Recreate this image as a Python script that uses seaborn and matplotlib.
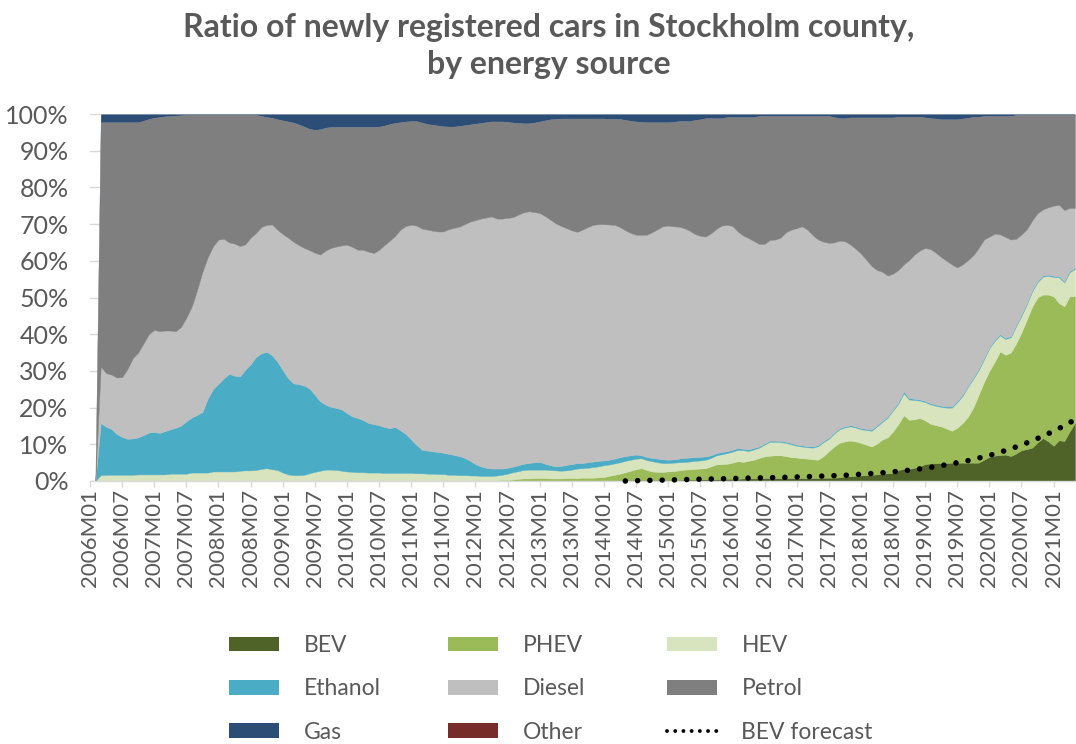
import numpy as np
import pandas as pd
import matplotlib
matplotlib.use("Agg")
import matplotlib.pyplot as plt
import seaborn as sns
from matplotlib.patches import Patch
from matplotlib.lines import Line2D

sns.set_theme(style="white")
plt.rcParams['font.family'] = ['Lato', 'DejaVu Sans']

# ---------------- data (share of newly registered cars, %) ----------------
months = [f"{y}M{m:02d}" for y in range(2006, 2022) for m in range(1, 13)][:185]

bev = [
    0, 0, 0, 0, 0, 0, 0, 0, 0, 0, 0, 0,
    0, 0, 0, 0, 0, 0, 0, 0, 0, 0, 0, 0,
    0, 0, 0, 0, 0, 0, 0, 0, 0, 0, 0, 0,
    0, 0, 0, 0, 0, 0, 0, 0, 0, 0, 0, 0,
    0, 0, 0, 0, 0, 0, 0, 0, 0, 0, 0, 0,
    0, 0, 0, 0, 0, 0, 0, 0, 0, 0, 0, 0,
    0, 0, 0, 0, 0, 0, 0, 0, 0, 0, 0, 0,
    0, 0, 0, 0, 0, 0, 0, 0, 0, 0, 0, 0,
    0.1, 0.1, 0.2, 0.2, 0.3, 0.3, 0.3, 0.3, 0.3, 0.3, 0.3, 0.3,
    0.3, 0.3, 0.3, 0.4, 0.4, 0.4, 0.4, 0.5, 0.5, 0.5, 0.5, 0.6,
    0.6, 0.6, 0.7, 0.7, 0.7, 0.7, 0.8, 0.8, 0.8, 0.8, 0.8, 0.8,
    0.8, 0.8, 0.8, 0.8, 0.8, 0.9, 0.9, 0.9, 1.0, 1.2, 1.3, 1.4,
    1.5, 1.6, 1.7, 1.8, 2.0, 2.1, 2.2, 3.0, 3.3, 3.3, 3.6, 4.0,
    4.6, 4.8, 4.9, 4.9, 4.9, 5.0, 5.0, 5.0, 5.0, 5.0, 5.0, 5.8,
    6.6, 6.9, 7.1, 7.2, 6.8, 7.5, 8.4, 8.7, 9.1, 10.5, 11.7, 10.8,
    9.6, 11.1, 10.9, 13.5, 15.8,
]
phev = [
    0, 0, 0, 0, 0, 0, 0, 0, 0, 0, 0, 0,
    0, 0, 0, 0, 0, 0, 0, 0, 0, 0, 0, 0,
    0, 0, 0, 0, 0, 0, 0, 0, 0, 0, 0, 0,
    0, 0, 0, 0, 0, 0, 0, 0, 0, 0, 0, 0,
    0, 0, 0, 0, 0, 0, 0, 0, 0, 0, 0, 0,
    0, 0, 0, 0, 0, 0, 0, 0, 0, 0, 0, 0,
    0, 0, 0, 0, 0.2, 0.3, 0.3, 0.4, 0.6, 0.7, 0.7, 0.8,
    0.8, 0.8, 0.7, 0.7, 0.7, 0.8, 0.8, 0.8, 0.9, 0.9, 0.9, 1.0,
    1.0, 1.3, 1.5, 1.8, 2.1, 2.5, 2.9, 3.2, 2.7, 2.3, 2.2, 2.2,
    2.3, 2.4, 2.6, 2.7, 2.8, 2.9, 3.0, 3.0, 3.5, 4.0, 4.1, 4.1,
    4.4, 4.8, 4.5, 4.8, 5.1, 5.6, 5.9, 6.1, 6.2, 6.2, 6.0, 5.7,
    5.6, 5.4, 5.3, 5.1, 5.0, 5.9, 7.2, 8.5, 9.4, 9.6, 9.7, 9.4,
    8.9, 8.3, 7.7, 8.4, 9.3, 9.8, 11.3, 12.5, 14.6, 13.4, 13.2, 13.2,
    11.9, 10.8, 10.3, 10.0, 9.4, 8.7, 9.5, 10.8, 12.5, 15.0, 18.5, 21.2,
    23.4, 25.6, 28.2, 27.2, 28.2, 30.0, 32.1, 35.3, 38.4, 39.5, 39.1, 40.0,
    40.7, 37.4, 36.7, 36.8, 34.6,
]
hev = [
    0, 0, 1.6, 1.7, 1.7, 1.7, 1.7, 1.7, 1.7, 1.8, 1.8, 1.8,
    1.8, 1.8, 1.8, 2.0, 2.0, 2.0, 2.0, 2.3, 2.3, 2.3, 2.3, 2.6,
    2.6, 2.6, 2.6, 2.6, 2.8, 2.9, 2.9, 3.0, 3.3, 3.5, 3.2, 3.0,
    2.3, 1.8, 1.6, 1.6, 1.7, 2.1, 2.5, 2.8, 3.1, 3.1, 3.0, 2.8,
    2.6, 2.5, 2.4, 2.4, 2.3, 2.3, 2.3, 2.2, 2.2, 2.2, 2.2, 2.2,
    2.2, 2.1, 2.1, 2.0, 2.0, 1.9, 1.9, 1.7, 1.7, 1.6, 1.6, 1.5,
    1.5, 1.4, 1.4, 1.4, 1.3, 1.4, 1.7, 2.0, 2.1, 2.3, 2.4, 2.3,
    2.3, 2.3, 2.3, 2.2, 2.1, 2.1, 2.3, 2.6, 2.6, 2.7, 2.9, 3.0,
    3.2, 3.1, 3.1, 3.1, 3.1, 3.0, 2.9, 2.7, 2.7, 2.8, 2.6, 2.4,
    2.3, 2.3, 2.2, 2.1, 2.1, 2.2, 2.2, 2.3, 2.3, 2.5, 2.7, 2.9,
    3.0, 3.1, 3.2, 2.7, 2.8, 2.8, 3.2, 3.8, 3.7, 3.6, 3.6, 3.5,
    3.2, 3.2, 3.1, 3.2, 3.7, 3.8, 3.4, 3.5, 3.7, 3.8, 3.9, 3.8,
    3.7, 4.0, 4.3, 4.7, 4.8, 5.4, 5.7, 5.6, 6.0, 5.5, 5.3, 4.7,
    5.0, 5.3, 5.3, 5.3, 5.7, 6.3, 7.0, 7.4, 8.2, 7.9, 6.7, 6.2,
    6.2, 5.7, 4.4, 4.3, 4.2, 4.7, 4.5, 4.2, 4.2, 4.2, 4.9, 5.1,
    5.3, 7.0, 6.5, 6.6, 7.4,
]
ethanol = [
    0, 0, 14.2, 13.1, 12.5, 11.1, 10.3, 9.8, 9.9, 10.1, 10.7, 11.4,
    11.6, 11.3, 11.8, 12.1, 12.5, 13.1, 14.3, 15.0, 15.7, 16.5, 20.2, 22.5,
    23.9, 25.4, 26.6, 26.1, 25.7, 27.4, 28.9, 30.8, 31.5, 31.7, 31.1, 29.5,
    27.9, 26.2, 25.0, 24.8, 24.3, 23.1, 21.0, 18.9, 17.7, 17.1, 16.9, 16.7,
    15.9, 15.1, 14.8, 14.2, 13.5, 13.2, 12.9, 12.5, 12.2, 12.5, 11.6, 10.6,
    9.1, 7.7, 6.4, 6.3, 6.1, 6.0, 5.8, 5.7, 5.4, 5.2, 4.7, 4.0,
    3.1, 2.6, 2.2, 2.0, 1.9, 1.7, 1.6, 1.5, 1.6, 1.7, 1.8, 2.0,
    2.1, 1.6, 1.3, 1.1, 1.3, 1.5, 1.5, 1.5, 1.4, 1.5, 1.5, 1.5,
    1.3, 1.3, 1.3, 1.4, 1.3, 1.2, 1.1, 0.8, 0.8, 0.9, 1.0, 1.0,
    0.9, 0.9, 1.0, 1.1, 1.1, 1.0, 1.0, 0.9, 0.7, 0.6, 0.6, 0.5,
    0.5, 0.5, 0.4, 0.4, 0.4, 0.3, 0.3, 0.3, 0.3, 0.3, 0.3, 0.3,
    0.3, 0.3, 0.3, 0.3, 0.3, 0.3, 0.3, 0.3, 0.3, 0.3, 0.3, 0.3,
    0.3, 0.3, 0.3, 0.3, 0.3, 0.3, 0.3, 0.4, 0.5, 0.4, 0.3, 0.3,
    0.3, 0.3, 0.3, 0.3, 0.3, 0.3, 0.3, 0.3, 0.3, 0.3, 0.3, 0.3,
    0.3, 0.3, 0.3, 0.3, 0.3, 0.3, 0.3, 0.3, 0.3, 0.3, 0.3, 0.3,
    0.3, 0.3, 0.3, 0.3, 0.3,
]
diesel = [
    0, 0, 15.4, 14.6, 14.8, 15.4, 16.3, 19.0, 21.9, 23.1, 25.0, 26.8,
    27.8, 27.7, 27.4, 26.9, 26.3, 26.9, 28.2, 30.2, 34.0, 38.2, 38.5, 38.9,
    39.3, 38.0, 35.8, 36.0, 35.5, 34.2, 34.5, 33.8, 34.4, 34.6, 35.6, 36.0,
    37.1, 38.3, 38.6, 37.9, 37.5, 37.7, 38.7, 40.0, 42.0, 43.3, 44.0, 44.7,
    45.9, 46.2, 45.8, 46.4, 46.7, 46.6, 47.8, 49.6, 51.1, 52.1, 54.7, 56.7,
    58.5, 59.8, 60.3, 60.2, 60.1, 60.1, 60.3, 61.2, 61.9, 62.5, 63.7, 65.2,
    66.5, 67.5, 68.2, 68.7, 68.1, 68.1, 68.1, 68.0, 68.3, 68.5, 68.6, 68.2,
    67.8, 67.5, 66.9, 66.2, 65.4, 64.5, 63.7, 63.0, 63.6, 64.1, 64.5, 64.5,
    64.4, 64.1, 63.7, 62.7, 61.5, 60.6, 59.9, 60.1, 60.6, 61.5, 62.5, 63.5,
    63.8, 63.5, 63.2, 62.6, 61.8, 60.8, 60.2, 59.9, 60.5, 61.1, 61.7, 61.7,
    61.0, 59.0, 58.1, 57.6, 56.4, 55.2, 54.4, 54.7, 54.8, 55.4, 57.1, 58.2,
    59.0, 59.7, 59.0, 57.6, 56.0, 54.3, 53.1, 51.8, 51.1, 50.4, 49.3, 48.4,
    47.6, 46.1, 44.6, 42.3, 40.6, 38.4, 37.0, 36.0, 34.6, 37.6, 39.3, 40.6,
    41.7, 42.0, 41.4, 40.5, 39.7, 38.7, 36.4, 35.5, 34.2, 33.3, 33.0, 32.3,
    30.1, 28.9, 27.2, 27.5, 26.3, 23.5, 21.9, 20.1, 19.0, 18.5, 18.0, 18.4,
    19.1, 19.5, 19.4, 17.2, 16.3,
]
petrol = [
    0, 0, 66.6, 68.4, 68.8, 69.6, 69.5, 67.3, 64.3, 62.8, 60.7, 58.7,
    57.8, 58.4, 58.4, 58.5, 58.8, 57.7, 55.3, 52.3, 47.8, 42.8, 38.8, 35.8,
    34.0, 33.8, 34.8, 35.1, 35.8, 35.3, 33.5, 32.2, 30.3, 29.4, 29.1, 30.1,
    31.0, 31.7, 32.5, 32.9, 33.1, 33.1, 33.5, 34.2, 33.5, 33.0, 32.6, 32.3,
    32.1, 32.7, 33.5, 33.5, 34.0, 34.4, 33.6, 32.6, 31.8, 30.8, 29.3, 28.5,
    28.3, 28.5, 28.9, 28.8, 28.9, 28.9, 28.7, 28.0, 27.6, 27.5, 27.0, 26.5,
    26.3, 26.1, 26.0, 25.9, 26.5, 26.5, 26.2, 25.8, 25.0, 24.3, 24.0, 24.4,
    25.0, 26.1, 27.4, 28.5, 29.3, 29.9, 30.5, 30.9, 30.3, 29.6, 29.0, 28.8,
    28.8, 28.8, 28.9, 29.5, 30.1, 30.6, 30.9, 30.8, 30.7, 30.0, 29.2, 28.4,
    28.2, 28.5, 28.8, 29.2, 29.9, 31.1, 31.8, 32.3, 31.4, 30.2, 29.3, 29.4,
    29.7, 31.2, 32.3, 33.0, 33.8, 34.9, 34.9, 33.8, 33.7, 33.2, 31.7, 31.0,
    30.6, 30.1, 31.0, 32.5, 33.7, 34.3, 34.6, 34.2, 33.4, 33.6, 34.6, 35.8,
    37.1, 38.8, 40.5, 41.6, 42.1, 43.1, 42.6, 41.8, 40.3, 39.1, 37.6, 36.5,
    35.6, 35.7, 36.6, 37.6, 38.6, 39.6, 40.4, 39.8, 38.8, 37.8, 35.8, 33.7,
    32.9, 32.1, 32.3, 33.0, 33.7, 33.8, 32.6, 31.2, 28.8, 26.8, 25.8, 25.2,
    24.8, 24.5, 26.0, 25.4, 25.4,
]
gas = [
    0, 0, 2.2, 2.2, 2.2, 2.2, 2.2, 2.2, 2.2, 2.2, 1.8, 1.3,
    1.0, 0.8, 0.6, 0.5, 0.4, 0.3, 0.2, 0.2, 0.2, 0.2, 0.2, 0.2,
    0.2, 0.2, 0.2, 0.2, 0.2, 0.2, 0.2, 0.2, 0.5, 0.8, 1.0, 1.4,
    1.7, 2.0, 2.3, 2.8, 3.4, 4.0, 4.3, 4.1, 3.7, 3.5, 3.5, 3.5,
    3.5, 3.5, 3.5, 3.5, 3.5, 3.5, 3.4, 3.1, 2.7, 2.4, 2.2, 2.0,
    1.9, 1.9, 2.3, 2.7, 2.9, 3.1, 3.3, 3.4, 3.4, 3.2, 3.0, 2.8,
    2.6, 2.4, 2.2, 2.0, 2.0, 2.0, 2.1, 2.3, 2.4, 2.5, 2.5, 2.3,
    2.0, 1.7, 1.4, 1.3, 1.2, 1.2, 1.2, 1.2, 1.2, 1.2, 1.2, 1.2,
    1.2, 1.3, 1.3, 1.3, 1.6, 1.8, 2.0, 2.1, 2.2, 2.2, 2.2, 2.2,
    2.2, 2.1, 1.9, 1.9, 1.9, 1.6, 1.4, 1.1, 1.1, 1.1, 1.1, 0.8,
    0.8, 0.8, 0.8, 0.8, 0.8, 0.5, 0.5, 0.5, 0.5, 0.5, 0.5, 0.5,
    0.5, 0.5, 0.5, 0.5, 0.5, 0.5, 0.5, 0.8, 1.1, 1.1, 0.9, 0.9,
    0.9, 0.9, 0.9, 0.9, 0.9, 0.9, 0.9, 0.7, 0.7, 0.7, 0.7, 0.7,
    0.9, 1.1, 1.2, 1.4, 1.4, 1.4, 1.4, 1.2, 1.0, 0.7, 0.7, 0.5,
    0.5, 0.5, 0.5, 0.5, 0.5, 0.2, 0.2, 0.2, 0.2, 0.2, 0.2, 0.2,
    0.2, 0.2, 0.2, 0.2, 0.2,
]
other = [0.0] * len(months)   # no visible share

# BEV forecast, 2014M05 .. 2021M05
forecast_start = "2014M05"
bev_forecast = [
    0.0, 0.05, 0.1, 0.1, 0.15, 0.2, 0.2, 0.25, 0.3, 0.3, 0.35, 0.4,
    0.4, 0.45, 0.5, 0.5, 0.55, 0.6, 0.6, 0.65, 0.7, 0.7, 0.75, 0.8,
    0.8, 0.85, 0.9, 0.9, 0.95, 1.0, 1.0, 1.05, 1.1, 1.15, 1.2, 1.25,
    1.3, 1.35, 1.4, 1.45, 1.5, 1.55, 1.65, 1.75, 1.85, 1.95, 2.05, 2.15,
    2.25, 2.4, 2.5, 2.65, 2.8, 2.95, 3.1, 3.3, 3.5, 3.7, 3.95, 4.2,
    4.45, 4.7, 5.0, 5.25, 5.55, 5.9, 6.25, 6.6, 7.0, 7.4, 7.85, 8.3,
    8.8, 9.3, 9.85, 10.4, 11.0, 11.6, 12.25, 12.9, 13.6, 14.3, 15.1, 15.9,
    16.7,
]

series_names = ["BEV", "PHEV", "HEV", "Ethanol", "Diesel", "Petrol", "Gas", "Other"]
colors = ["#4f6228", "#9bbb59", "#d7e4bd", "#4bacc6", "#bfbfbf", "#7f7f7f", "#2c4d75", "#772c2a"]
text_color = "#595959"
grid_color = "#d9d9d9"

# ---------------- figure ----------------
W, H = 1076, 744
fig = plt.figure(figsize=(W / 100, H / 100), dpi=100)
ax = fig.add_axes([90 / W, (H - 481) / H, 985 / W, 367 / H])

x = np.arange(len(months))
polys = ax.stackplot(x, bev, phev, hev, ethanol, diesel, petrol, gas, other,
                     colors=colors, edgecolor="face", linewidth=0.3, zorder=2)
polys[-1].set_linewidth(0)
polys[-2].set_linewidth(0)

fstart = months.index(forecast_start)
df_fc = pd.DataFrame({"x": x[fstart:fstart + len(bev_forecast)], "y": bev_forecast})
sns.lineplot(data=df_fc, x="x", y="y", ax=ax, color="black", lw=4.0,
             linestyle=(0, (0.01, 2.2)), dash_capstyle="round",
             zorder=5, clip_on=False)

ax.set_xlim(0, 184)
ax.set_ylim(0, 100)
ax.set_xlabel("")
ax.set_ylabel("")

ax.set_yticks(np.arange(0, 101, 10))
ax.set_yticklabels([f"{v}%" for v in range(0, 101, 10)])
ax.yaxis.grid(True, color=grid_color, lw=1)
ax.xaxis.grid(False)
ax.set_axisbelow(True)

ax.set_xticks(x[::6])
ax.set_xticklabels(months[::6], rotation=90)
ax.tick_params(axis="x", length=4, width=1, color=grid_color, direction="out",
               pad=2, labelsize=16, labelcolor=text_color, bottom=True)
ax.tick_params(axis="y", length=0, pad=15.5, labelsize=18, labelcolor=text_color)

for s in ["left", "right", "top"]:
    ax.spines[s].set_visible(False)
ax.spines["bottom"].set_color(grid_color)
ax.spines["bottom"].set_linewidth(1)
ax.spines["bottom"].set_zorder(3)

# title
fig.text(549 / W, 1 - 46 / H,
         "Ratio of newly registered cars in Stockholm county,\nby energy source",
         ha="center", va="center", fontsize=23, fontweight="bold",
         color=text_color, linespacing=1.3)

# legend: three columns
handles = [Patch(facecolor=c, edgecolor="none") for c in colors]
fc_handle = Line2D([0], [0], color="black", lw=2.8, linestyle=(0, (0.01, 2.1)),
                   dash_capstyle="round")
all_handles = handles + [fc_handle]
all_labels = series_names + ["BEV forecast"]
columns = [[0, 3, 6], [1, 4, 7], [2, 5, 8]]
col_x = [229, 448, 667]
for cx, idxs in zip(col_x, columns):
    leg = fig.legend([all_handles[k] for k in idxs], [all_labels[k] for k in idxs],
                     loc="upper left", bbox_to_anchor=(cx / W, 1 - 635 / H),
                     frameon=False, fontsize=16.5, handlelength=2.2, handleheight=0.62,
                     handletextpad=1.05, labelspacing=0.98, borderpad=0,
                     borderaxespad=0)
    for t in leg.get_texts():
        t.set_color(text_color)

fig.savefig("out.png", dpi=100)
